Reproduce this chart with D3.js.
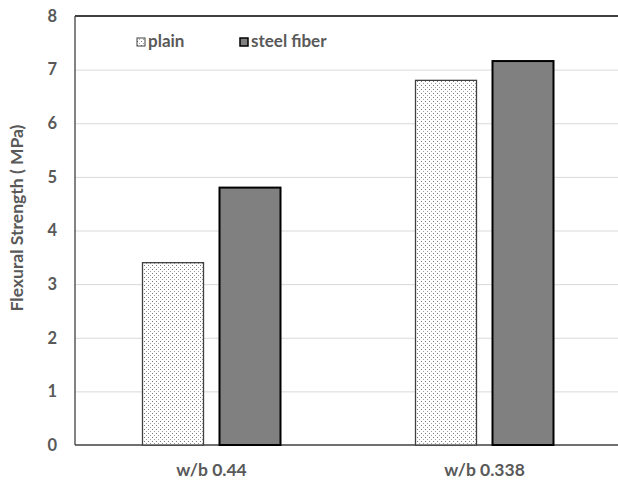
<!DOCTYPE html>
<html>
<head>
<meta charset="utf-8">
<script src="https://cdn.jsdelivr.net/npm/d3@7"></script>
<style>
  html, body { margin: 0; padding: 0; background: #fff; }
  svg { display: block; }
  text { font-family: Lato, "Noto Sans", sans-serif; font-weight: bold; fill: #595959; }
</style>
</head>
<body>
<svg id="chart" width="618" height="481"></svg>
<script>
const categories = ["w/b 0.44", "w/b 0.338"];
const seriesNames = ["plain", "steel fiber"];
const plainValues = [3.4, 6.8];
const steelValues = [4.8, 7.16];
const yTicks = [0, 1, 2, 3, 4, 5, 6, 7, 8];
const yTitle = "Flexural Strength ( MPa)";

const svg = d3.select("#chart");
const W = 618, H = 481;
const m = { left: 75, top: 16, right: -3, bottom: 36 };
const x0 = d3.scaleBand().domain(categories).range([m.left, W - m.right]).padding(0);
const x1 = d3.scaleBand().domain(seriesNames).range([0, x0.bandwidth()])
  .paddingInner(0.2078).paddingOuter(0.8766);
const y = d3.scaleLinear().domain([0, 8]).range([H - m.bottom, m.top]);

const defs = svg.append("defs");
const pat = defs.append("pattern").attr("id", "dots").attr("patternUnits", "userSpaceOnUse")
  .attr("width", 4).attr("height", 4);
pat.append("rect").attr("width", 4).attr("height", 4).attr("fill", "#fff");
pat.append("rect").attr("x", 1).attr("y", 1).attr("width", 1).attr("height", 1).attr("fill", "#7a7a7a");
pat.append("rect").attr("x", 3).attr("y", 3).attr("width", 1).attr("height", 1).attr("fill", "#a0a0a0");

// gridlines
svg.append("g").attr("class", "grid")
  .attr("transform", `translate(${m.left},0)`)
  .call(d3.axisLeft(y).tickValues(yTicks.slice(1, -1)).tickSize(-(W - m.left + 10)).tickFormat(""))
  .call(g => g.select(".domain").remove())
  .call(g => g.selectAll("line").attr("stroke", "#d9d9d9").attr("stroke-width", 1));

// frame: top, left, bottom
svg.append("line").attr("x1", m.left).attr("x2", W).attr("y1", y(8)).attr("y2", y(8))
  .attr("stroke", "#000").attr("stroke-width", 1.3);
svg.append("line").attr("x1", m.left).attr("x2", m.left).attr("y1", y(8)).attr("y2", y(0))
  .attr("stroke", "#404040").attr("stroke-width", 1.3);
svg.append("line").attr("x1", m.left).attr("x2", W).attr("y1", y(0)).attr("y2", y(0))
  .attr("stroke", "#404040").attr("stroke-width", 1.3);

// y tick labels
const yAxis = svg.append("g").attr("transform", `translate(${m.left},0)`)
  .call(d3.axisLeft(y).tickValues(yTicks).tickSize(0).tickPadding(18).tickFormat(d3.format("d")));
yAxis.select(".domain").remove();
yAxis.selectAll("text").style("font-family", "Lato, 'Noto Sans', sans-serif")
  .style("font-weight", "bold").style("font-size", "16.5px").attr("fill", "#595959");

// x labels
const xAxis = svg.append("g").attr("transform", `translate(0,${y(0)})`)
  .call(d3.axisBottom(x0).tickSize(0).tickPadding(19));
xAxis.select(".domain").remove();
xAxis.selectAll("text").style("font-family", "Lato, 'Noto Sans', sans-serif")
  .style("font-weight", "bold").style("font-size", "17.5px").attr("fill", "#595959");

// bars
const rows = categories.map((c, i) => ({ cat: c, vals: [
  { s: "plain", v: plainValues[i] }, { s: "steel fiber", v: steelValues[i] } ] }));
const styleFor = s => s === "plain"
  ? { fill: "url(#dots)", stroke: "#404040", sw: 1.3 }
  : { fill: "#808080", stroke: "#000", sw: 2 };
svg.append("g").selectAll("g").data(rows).join("g")
  .attr("transform", d => `translate(${x0(d.cat)},0)`)
  .selectAll("rect").data(d => d.vals).join("rect")
  .attr("x", d => x1(d.s)).attr("width", x1.bandwidth())
  .attr("y", d => y(d.v)).attr("height", d => y(0) - y(d.v))
  .attr("fill", d => styleFor(d.s).fill)
  .attr("stroke", d => styleFor(d.s).stroke)
  .attr("stroke-width", d => styleFor(d.s).sw);

// legend
const legendX = [137, 240];
const lg = svg.append("g");
seriesNames.forEach((s, i) => {
  const st = styleFor(s);
  lg.append("rect").attr("x", legendX[i]).attr("y", 38).attr("width", 8).attr("height", 8)
    .attr("fill", st.fill).attr("stroke", st.stroke).attr("stroke-width", i ? 1.5 : 1);
  lg.append("text").attr("x", legendX[i] + 11).attr("y", 46.5)
    .style("font-size", "17px").text(s);
});

// y title
svg.append("text").attr("transform", `translate(23,218) rotate(-90)`)
  .attr("text-anchor", "middle").style("font-size", "17.5px").text(yTitle);
</script>
</body>
</html>
